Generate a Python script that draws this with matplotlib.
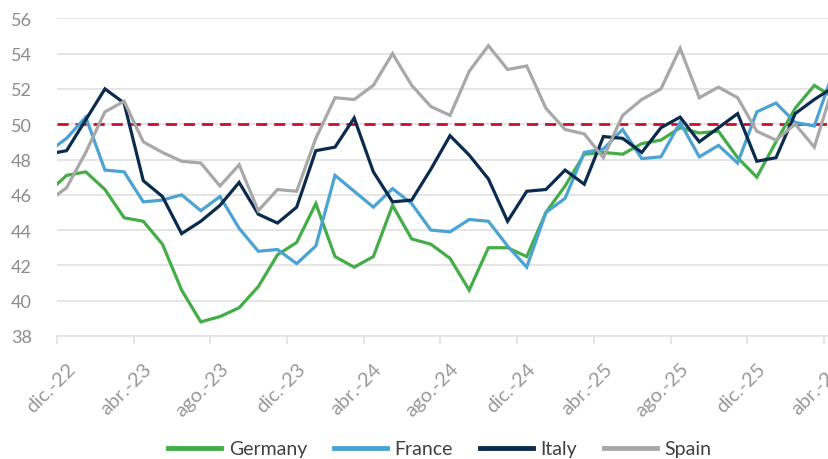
import numpy as np
import matplotlib
matplotlib.use("Agg")
from matplotlib import pyplot as plt

# months nov.-22 .. abr.-26 (first one only partly visible at the left edge)
months = ["nov.-22", "dic.-22", "ene.-23", "feb.-23", "mar.-23", "abr.-23", "may.-23", "jun.-23",
          "jul.-23", "ago.-23", "sept.-23", "oct.-23", "nov.-23", "dic.-23", "ene.-24", "feb.-24",
          "mar.-24", "abr.-24", "may.-24", "jun.-24", "jul.-24", "ago.-24", "sept.-24", "oct.-24",
          "nov.-24", "dic.-24", "ene.-25", "feb.-25", "mar.-25", "abr.-25", "may.-25", "jun.-25",
          "jul.-25", "ago.-25", "sept.-25", "oct.-25", "nov.-25", "dic.-25", "ene.-26", "feb.-26",
          "mar.-26", "abr.-26"]

germany = [46.1, 47.1, 47.3, 46.3, 44.7, 44.5, 43.2, 40.6, 38.8, 39.1, 39.6, 40.8, 42.6, 43.3,
           45.5, 42.5, 41.9, 42.5, 45.4, 43.5, 43.2, 42.4, 40.6, 43.0, 43.0, 42.5, 45.0, 46.5,
           48.3, 48.4, 48.3, 48.9, 49.1, 49.8, 49.5, 49.6, 48.1, 47.0, 49.0, 50.9, 52.2, 51.5]
france = [48.4, 49.2, 50.4, 47.4, 47.3, 45.6, 45.7, 46.0, 45.1, 45.9, 44.1, 42.8, 42.9, 42.1,
          43.1, 47.1, 46.2, 45.3, 46.35, 45.5, 44.0, 43.9, 44.6, 44.5, 43.1, 41.9, 45.0, 45.8,
          48.4, 48.6, 49.7, 48.05, 48.15, 50.1, 48.15, 48.8, 47.8, 50.7, 51.2, 50.1, 49.9, 53.0]
italy = [48.3, 48.5, 50.25, 52.0, 51.2, 46.8, 45.9, 43.8, 44.5, 45.4, 46.7, 44.9, 44.4, 45.3,
         48.5, 48.7, 50.35, 47.3, 45.6, 45.7, 47.45, 49.35, 48.25, 46.9, 44.5, 46.2, 46.3, 47.4,
         46.6, 49.3, 49.2, 48.4, 49.8, 50.4, 49.0, 49.8, 50.6, 47.9, 48.1, 50.6, 51.4, 52.1]
spain = [45.6, 46.4, 48.4, 50.7, 51.3, 49.0, 48.4, 47.9, 47.8, 46.5, 47.7, 45.1, 46.3, 46.2,
         49.2, 51.5, 51.4, 52.2, 54.0, 52.2, 51.0, 50.5, 53.0, 54.45, 53.1, 53.3, 50.9, 49.7,
         49.45, 48.1, 50.5, 51.4, 52.0, 54.3, 51.5, 52.1, 51.5, 49.6, 49.1, 50.0, 48.7, 52.2]

series = {"Germany": germany, "France": france, "Italy": italy, "Spain": spain}
colors = {"Germany": "#44AD48", "France": "#4BA3D3", "Italy": "#0B2B4E", "Spain": "#A8A8A8"}

plt.rcParams['font.family'] = ['Lato', 'DejaVu Sans']

x = np.arange(len(months)) - 1  # dic.-22 -> 0

fig = plt.figure(figsize=(8.29, 4.6), dpi=100)
# right edge a bit past the figure: the chart is cut off on the right
ax = fig.add_axes([57 / 829, 1 - 337 / 460, (833.5 - 57) / 829, (337 - 19.3) / 460])

for name, vals in series.items():
    ax.plot(x, vals, color=colors[name], linewidth=2.3, label=name, solid_joinstyle='miter')

ax.axhline(50, color="#C8102E", linewidth=2, linestyle=(0, (4, 2.5)), zorder=1)

ax.set_xlim(-0.5, 40)
ax.set_ylim(38, 56)
ax.set_yticks(np.arange(38, 57, 2))
ax.grid(axis='y', color="#E3E3E3", linewidth=1.3)
ax.set_axisbelow(True)

lab_pos = x[1::4]
ax.set_xticks(lab_pos)
ax.set_xticklabels(months[1::4], rotation=45, ha='right', rotation_mode='anchor')
ax.set_xticks(np.arange(-0.5, 40, 4), minor=True)
ax.tick_params(axis='x', which='major', length=0, pad=17, labelsize=14.5, labelcolor="#999999")
ax.tick_params(axis='x', which='minor', length=6, width=1.3, color="#E3E3E3")
ax.tick_params(axis='y', length=0, pad=18, labelsize=13, labelcolor="#8C8C8C")

for s in ["top", "right", "left"]:
    ax.spines[s].set_visible(False)
ax.spines["bottom"].set_color("#E3E3E3")
ax.spines["bottom"].set_linewidth(1.3)

fig.legend(loc='center', bbox_to_anchor=(440 / 829, 1 - 450 / 460), ncol=4, frameon=False,
           fontsize=14, handlelength=2.7, columnspacing=1.4, handletextpad=0.4,
           labelcolor="#404040")
for line in fig.legends[0].get_lines():
    line.set_linewidth(3.5)

fig.savefig("out.png", dpi=100)
